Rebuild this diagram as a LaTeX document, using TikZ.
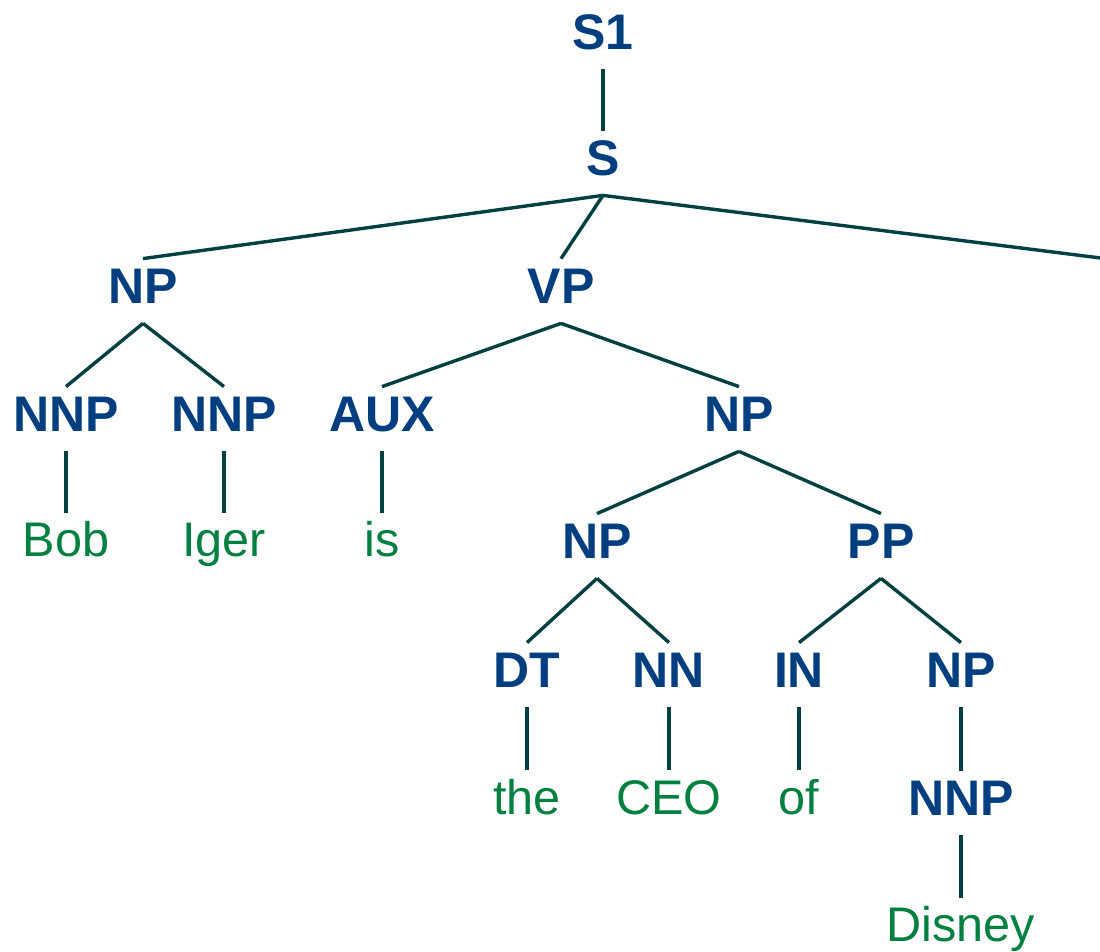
\documentclass[tikz,border=0pt]{standalone}
\usepackage{fontspec}
\setmainfont{Liberation Sans}
\definecolor{tagblue}{RGB}{0,62,128}
\definecolor{wordgreen}{RGB}{0,128,64}
\definecolor{edgeteal}{RGB}{0,64,64}
\usetikzlibrary{positioning}

\begin{document}
\begin{tikzpicture}[x=0.5pt, y=-0.5pt,
    tag/.style={anchor=base, text=tagblue, inner xsep=0pt, inner ysep=4pt,
                text height=18.5pt, text depth=5.5pt,
                font=\fontsize{25}{28}\selectfont\bfseries},
    word/.style={anchor=base, text=wordgreen, inner xsep=0pt, inner ysep=5pt,
                 text height=17pt, text depth=0pt,
                 font=\fontsize{24.3}{28}\selectfont},
    edge/.style={draw=edgeteal, line width=1.7pt}
  ]
    \clip (0,0) rectangle (1100,952);

    % constituents
    \node[tag] (s1)   at (603,50)  {S1};
    \node[tag] (s)    at (603,176) {S};
    \node[tag] (np)   at (143,304) {NP};
    \node[tag] (vp)   at (561,304) {VP};
    \node[tag] (nnpa) at (66,432)  {NNP};
    \node[tag] (nnpb) at (224,432) {NNP};
    \node[tag] (aux)  at (382,432) {AUX};
    \node[tag] (npb)  at (739,432) {NP};
    \node[tag] (npc)  at (597,559) {NP};
    \node[tag] (pp)   at (881,559) {PP};
    \node[tag] (dt)   at (527,688) {DT};
    \node[tag] (nn)   at (669,688) {NN};
    \node[tag] (in)   at (799,688) {IN};
    \node[tag] (npd)  at (961,688) {NP};
    \node[tag] (nnpc) at (961,816) {NNP};
    \coordinate (punct) at (1180,268);

    % words
    \node[word] (bob)    at (66,557)  {Bob};
    \node[word] (iger)   at (224,557) {Iger};
    \node[word] (is)     at (382,557) {is};
    \node[word] (the)    at (527,814) {the};
    \node[word] (ceo)    at (669,814) {CEO};
    \node[word] (of)     at (799,814) {of};
    \node[word] (disney) at (961,942) {Disney};

    \foreach \a/\b in {s1/s, s/np, s/vp, np/nnpa, np/nnpb, vp/aux, vp/npb,
                       npb/npc, npb/pp, npc/dt, npc/nn, pp/in, pp/npd, npd/nnpc,
                       nnpa/bob, nnpb/iger, aux/is, dt/the, nn/ceo, in/of, nnpc/disney}
      \draw[edge] (\a.south) -- (\b.north);
    \draw[edge] (s.south) -- (punct);
\end{tikzpicture}
\end{document}
